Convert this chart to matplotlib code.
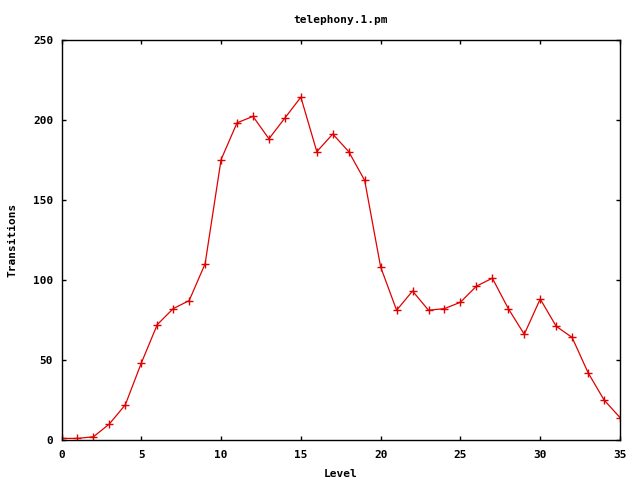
import matplotlib
matplotlib.use("Agg")
import matplotlib.pyplot as plt

levels = list(range(36))
transitions = [1, 1, 2, 10, 22, 48, 72, 82, 87, 110, 175, 198, 202, 188, 201, 214,
               180, 191, 180, 162, 108, 81, 93, 81, 82, 86, 96, 101, 82, 66, 88, 71,
               64, 42, 25, 14]
xticks = [0, 5, 10, 15, 20, 25, 30, 35]
yticks = [0, 50, 100, 150, 200, 250]

plt.rcParams['font.family'] = ['DejaVu Sans Mono']
plt.rcParams['font.weight'] = 'bold'

fig = plt.figure(figsize=(6.4, 4.8), dpi=100)
ax = fig.add_axes([61.5/640, 40/480, (620-61.5)/640, 400.5/480])
ax.plot(levels, transitions, color='#e00000', linewidth=0.9, marker='+',
        markersize=6, markeredgewidth=1.0)
ax.set_xlim(0, 35)
ax.set_ylim(0, 250)
ax.set_xticks(xticks)
ax.set_yticks(yticks)
ax.tick_params(direction='in', top=True, right=True, length=3, width=1,
               labelsize=8)
ax.tick_params(axis='x', pad=7)
ax.tick_params(axis='y', pad=6)
for lab in ax.get_xticklabels() + ax.get_yticklabels():
    lab.set_fontweight('bold')
for s in ax.spines.values():
    s.set_linewidth(1.0)
ax.set_xlabel('Level', fontsize=8, fontweight='bold', labelpad=7)
ax.set_ylabel('Transitions', fontsize=8, fontweight='bold', labelpad=11)
ax.set_title('telephony.1.pm', fontsize=8, fontweight='bold', pad=12)
fig.savefig('out.png', dpi=100)
